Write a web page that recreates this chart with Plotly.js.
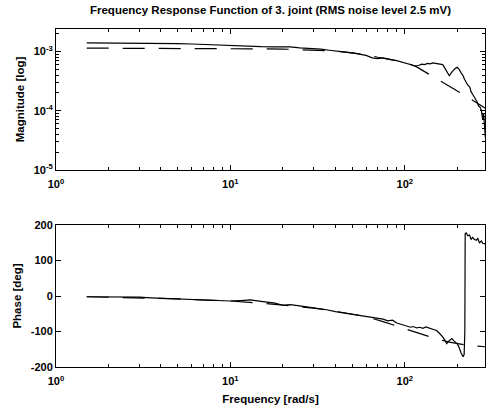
<!DOCTYPE html>
<html><head><meta charset="utf-8">
<script src="https://cdn.plot.ly/plotly-3.0.1.min.js"></script>
<style>html,body{margin:0;padding:0;background:#fff;}#chart{width:486px;height:412px;}</style>
</head><body><div id="chart"></div>
<script>
// Measured FRF (solid)
const measFreq = [1.5,2,3,4,5,6,8,10,12,13,15,18,20,22,25,28,30,33,37,40,44,48,52,56,60,65,70,75,80,85,90,95,100,105,110,115,120,125,130,135,140,145,150,155,160,165,170,175,180,185,190,195,200,205,210,215,220,225,230,236,240,245,250,255,260,265,270,275,280,283,287,290];
const measMag = [1.40e-3,1.40e-3,1.39e-3,1.37e-3,1.36e-3,1.34e-3,1.30e-3,1.26e-3,1.22e-3,1.20e-3,1.21e-3,1.20e-3,1.21e-3,1.20e-3,1.15e-3,1.14e-3,1.12e-3,1.10e-3,1.05e-3,1.03e-3,1.00e-3,0.96e-3,0.93e-3,0.90e-3,0.86e-3,0.78e-3,0.76e-3,0.78e-3,0.74e-3,0.72e-3,0.70e-3,0.67e-3,0.65e-3,0.62e-3,0.60e-3,0.57e-3,0.58e-3,0.61e-3,0.60e-3,0.63e-3,0.62e-3,0.64e-3,0.63e-3,0.62e-3,0.62e-3,0.60e-3,0.52e-3,0.44e-3,0.39e-3,0.44e-3,0.48e-3,0.52e-3,0.54e-3,0.50e-3,0.44e-3,0.40e-3,0.34e-3,0.30e-3,0.27e-3,0.25e-3,0.21e-3,0.19e-3,0.17e-3,0.16e-3,0.14e-3,0.12e-3,0.115e-3,0.10e-3,0.07e-3,0.09e-3,0.04e-3,0.035e-3];
const phaseFreq = [1.5,2,2.5,3,3.5,4,5,6,7,8,10,12,13,15,18,20,22,25,28,31,35,40,45,48,55,60,65,70,75,80,85,90,95,102,108,112,117,122,127,132,138,145,152,158,165,170,174,178,183,186,190,195,200,205,210,216,219,221,222,225,230,235,240,245,250,257,262,268,275,280,287,290];
const measPhase = [-2,-2,-3,-3,-5,-6,-8,-10,-12,-13,-14,-12,-11,-15,-20,-26,-24,-28,-31,-35,-38,-44,-48,-51,-55,-58,-62,-63,-65,-70,-68,-76,-80,-83,-88,-86,-90,-88,-91,-87,-90,-94,-97,-105,-115,-125,-134,-128,-121,-120,-125,-130,-135,-145,-160,-171,-165,-100,176,178,170,172,160,165,160,157,162,150,155,148,148,145];
// Model FRF (dashed)
const modelFreq = [1.5,3,5,8,10,13,20,30,40,50,60,70,80,100,117,130,145,170,200,215,250,290];
const modelMag = [1.14e-3,1.14e-3,1.14e-3,1.13e-3,1.12e-3,1.11e-3,1.10e-3,1.07e-3,1.02e-3,0.95e-3,0.88e-3,0.80e-3,0.75e-3,0.66e-3,0.55e-3,0.46e-3,0.38e-3,0.29e-3,0.22e-3,0.19e-3,0.145e-3,0.11e-3];
const modelPhaseFreq = [1.5,3,5,8,10,15,20,30,40,50,60,75,100,117,150,180,230,290];
const modelPhase = [-2,-5,-8,-12,-14,-20,-25,-34,-43,-51,-58,-72,-92,-104,-120,-130,-139,-143];
// Tick labels
const xTickVals = [1,10,100];
const xTickText = ['10<sup>0</sup>','10<sup>1</sup>','10<sup>2</sup>'];
const magTickVals = [1e-5,1e-4,1e-3];
const magTickText = ['10<sup>-5</sup>','10<sup>-4</sup>','10<sup>-3</sup>'];
const phTickVals = [-200,-100,0,100,200];
const phTickText = ['-200','-100','0','100','200'];

function minorLog(lo, hi){const v=[];for(let e=lo;e<=hi;e++){for(let m=2;m<=9;m++){v.push(m*Math.pow(10,e));}}return v;}

const font = {family:'Liberation Sans, Arial, sans-serif', size:11, color:'#000'};
const titleFont = {family:'Liberation Sans, Arial, sans-serif', size:11.5, color:'#000', weight:'bold'};
const solid = {color:'#000', width:1.2};
const dashed = {color:'#000', width:1.2, dash:'22px,14px'};

const traces = [
  {x:measFreq, y:measMag, mode:'lines', line:solid, xaxis:'x', yaxis:'y'},
  {x:modelFreq, y:modelMag, mode:'lines', line:dashed, xaxis:'x', yaxis:'y'},
  {x:phaseFreq, y:measPhase, mode:'lines', line:solid, xaxis:'x2', yaxis:'y2'},
  {x:modelPhaseFreq, y:modelPhase, mode:'lines', line:dashed, xaxis:'x2', yaxis:'y2'}
];

const axBase = {showline:true, linecolor:'#000', linewidth:1, mirror:'ticks', ticks:'inside', ticklen:5, tickcolor:'#000', showgrid:false, zeroline:false, tickfont:{...font, weight:'bold'}};
const xMinor = {tickmode:'array', tickvals:minorLog(0,2), ticks:'inside', ticklen:3, tickcolor:'#000', showgrid:false};

const layout = {
  width:486, height:412, showlegend:false,
  paper_bgcolor:'#fff', plot_bgcolor:'#fff', font:font,
  margin:{l:56, r:1, t:29, b:45},
  title:{text:'Frequency Response Function of 3. joint (RMS noise level 2.5 mV)', font:titleFont, x:0.5, xanchor:'center', xref:'paper', y:0.976, yanchor:'middle', yref:'container'},
  xaxis:{...axBase, type:'log', range:[0,2.46], anchor:'y', tickmode:'array', tickvals:xTickVals, ticktext:xTickText, minor:xMinor, ticklabelstandoff:4},
  yaxis:{...axBase, type:'log', range:[-5,-2.62], domain:[0.583,1], anchor:'x', tickmode:'array', tickvals:magTickVals, ticktext:magTickText,
    minor:{tickmode:'array', tickvals:minorLog(-5,-3), ticks:'inside', ticklen:3, tickcolor:'#000', showgrid:false},
    title:{text:'Magnitude [log]', font:titleFont, standoff:6}},
  xaxis2:{...axBase, type:'log', range:[0,2.46], anchor:'y2', tickmode:'array', tickvals:xTickVals, ticktext:xTickText, minor:xMinor, ticklabelstandoff:4,
    title:{text:'Frequency [rad/s]', font:titleFont, standoff:8}},
  yaxis2:{...axBase, range:[-200,200], domain:[0,0.42], anchor:'x2', tickmode:'array', tickvals:phTickVals, ticktext:phTickText,
    title:{text:'Phase [deg]', font:titleFont, standoff:6}}
};

Plotly.newPlot('chart', traces, layout, {displayModeBar:false, staticPlot:true});
</script></body></html>
